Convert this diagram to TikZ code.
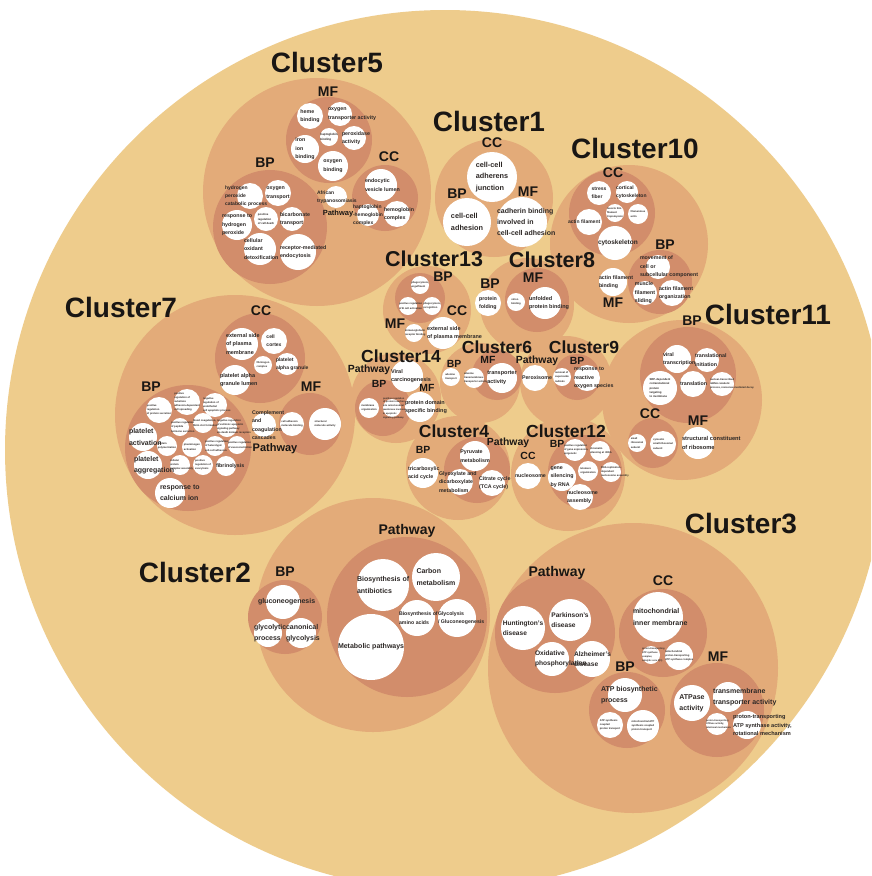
\documentclass[tikz,border=0pt]{standalone}
\usepackage{fontspec}
\setmainfont{Liberation Sans}
\pgfdeclarelayer{fg}
\pgfsetlayers{main,fg}
\definecolor{bgc}{RGB}{238,204,140}
\definecolor{clc}{RGB}{227,171,121}
\definecolor{sbc}{RGB}{210,141,107}
\definecolor{txt}{RGB}{45,40,38}
\definecolor{lab}{RGB}{25,22,20}
\newlength\wclen
\tikzset{
 bigc/.style={circle,fill=bgc,inner sep=0,draw=none},
 clus/.style={circle,fill=clc,inner sep=0,draw=none},
 subc/.style={circle,fill=sbc,inner sep=0,draw=none},
 wcirc/.style={circle,fill=white,inner sep=0,draw=none},
 wtext/.style={inner sep=0,anchor=center,align=left,text=txt},
 clab/.style={font=\bfseries\fontsize{28}{30}\selectfont,text=lab,inner sep=0},
 mlab/.style={font=\bfseries\fontsize{21.5}{24}\selectfont,text=lab,inner sep=0},
 nlab/.style={font=\bfseries\fontsize{17.5}{20}\selectfont,text=lab,inner sep=0},
 slab/.style={font=\bfseries\fontsize{14}{16}\selectfont,text=lab,inner sep=0},
 tlab/.style={font=\bfseries\fontsize{10.4}{12}\selectfont,text=lab,inner sep=0},
}
% #1 x offset, #2 name, #3 x, #4 y, #5 radius, #6 font size, #7 text
\newcommand\wc[7][0]{%
  \node[wcirc,minimum size=2*#5] (#2) at (#3,#4) {};%
  \pgfmathsetmacro\wcbs{1.6*#6}%
  \pgfinterruptpicture
    \settowidth\wclen{\fontsize{#6}{\wcbs}\selectfont\bfseries\begin{tabular}{@{}l@{}}#7\end{tabular}}%
    \global\wclen=\wclen
  \endpgfinterruptpicture
  \pgfmathsetmacro\wcxs{max(0,\wclen/2-#5)+#1}%
  \begin{pgfonlayer}{fg}%
    \node[wtext,font=\fontsize{#6}{\wcbs}\selectfont\bfseries] (#2t) at ([xshift=\wcxs pt]#2.center) {#7};%
  \end{pgfonlayer}%
}
\begin{document}
\begin{tikzpicture}[x=1pt,y=-1pt]
\useasboundingbox (0,0) rectangle (871,876);
\clip (0,0) rectangle (871,876);
\fill[white] (0,0) rectangle (871,876);
\node[bigc,minimum size=880] (all) at (445,450) {};
% cluster circles
\node[clus,minimum size=228] (k5) at (317,192) {};
\node[clus,minimum size=118] (k1) at (494,198) {};
\node[clus,minimum size=158] (k10) at (629,244) {};
\node[clus,minimum size=88] (k13) at (427,310) {};
\node[clus,minimum size=94] (k8) at (527,305) {};
\node[clus,minimum size=90] (k14) at (396,398) {};
\node[clus,minimum size=80] (k6) at (480,383) {};
\node[clus,minimum size=92] (k9) at (566,382) {};
\node[clus,minimum size=160] (k11) at (682,400) {};
\node[clus,minimum size=104] (k4) at (458,468) {};
\node[clus,minimum size=114] (k12) at (568,474) {};
\node[clus,minimum size=240] (k7) at (235,415) {};
\node[clus,minimum size=234] (k2) at (373,615) {};
\node[clus,minimum size=290] (k3) at (633,668) {};
% sub circles
\node[subc,minimum size=86] (k5mf) at (329,140) {};
\node[subc,minimum size=66] (k5cc) at (385,198) {};
\node[subc,minimum size=114] (k5bp) at (270,227) {};
\node[subc,minimum size=86] (k10cc) at (612,213) {};
\node[subc,minimum size=64] (k10bp) at (660,282) {};
\node[subc,minimum size=50] (k13bp) at (420,298) {};
\node[subc,minimum size=64] (k8mf) at (537,300) {};
\node[subc,minimum size=56] (k14bp) at (383,408) {};
\node[subc,minimum size=50] (k6mf) at (497,375) {};
\node[subc,minimum size=46] (k9bp) at (577,377) {};
\node[subc,minimum size=96] (k11bp) at (688,375) {};
\node[subc,minimum size=50] (k11cc) at (653,443) {};
\node[subc,minimum size=66] (k4pw) at (477,470) {};
\node[subc,minimum size=74] (k12bp) at (585,472) {};
\node[subc,minimum size=90] (k7cc) at (260,358) {};
\node[subc,minimum size=62] (k7mf) at (310,424) {};
\node[subc,minimum size=126] (k7bp) at (188,448) {};
\node[subc,minimum size=74] (k2bp) at (285,617) {};
\node[subc,minimum size=160] (k2pw) at (407,617) {};
\node[subc,minimum size=120] (k3pw) at (555,633) {};
\node[subc,minimum size=88] (k3cc) at (663,633) {};
\node[subc,minimum size=76] (k3bp) at (627,710) {};
\node[subc,minimum size=94] (k3mf) at (717,710) {};
% Cluster5
\wc{a1}{310}{116}{13}{5.3}{heme\\binding}
\wc{a2}{340}{114}{12}{5.3}{oxygen\\transporter activity}
\wc{a3}{329}{137}{9}{3}{haptoglobin\\binding}
\wc{a4}{354}{138}{12}{5.3}{peroxidase\\activity}
\wc{a5}{305}{149}{14}{5.3}{iron\\ion\\binding}
\wc{a6}{333}{166}{15}{5.3}{oxygen\\binding}
\wc{a7}{381}{185}{16}{5.3}{endocytic\\vesicle lumen}
\wc[-4]{a8}{368}{215}{11}{5}{haptoglobin\\-hemoglobin\\complex}
\wc{a9}{397}{214}{13}{5.3}{hemoglobin\\complex}
\wc[-8]{a10}{336}{197}{11}{5}{African\\trypanosomiasis}
\wc[-12]{a11}{250}{196}{13}{5}{hydrogen\\peroxide\\catabolic process}
\wc{a12}{278}{193}{13}{5.3}{oxygen\\transport}
\wc{a13}{266}{219}{12}{2.8}{positive\\regulation\\of cell death}
\wc{a14}{292}{219}{12}{5.3}{bicarbonate\\transport}
\wc{a15}{237}{225}{15}{5.3}{response to\\hydrogen\\peroxide}
\wc{a16}{260}{249}{16}{5.3}{cellular\\oxidant\\detoxification}
\wc{a17}{298}{252}{18}{5.3}{receptor-mediated\\endocytosis}
% Cluster1
\wc{b1}{492}{177}{25}{7.3}{cell-cell\\adherens\\junction}
\wc{b2}{467}{222}{24}{7.3}{cell-cell\\adhesion}
\wc{b3}{522}{222}{25}{7}{cadherin binding\\involved in\\cell-cell adhesion}
% Cluster10
\wc{c1}{599}{193}{12}{5}{stress\\fiber}
\wc{c2}{627}{192}{11}{5}{cortical\\cytoskeleton}
\wc{c3}{615}{213}{9}{2.6}{muscle thin\\filament\\tropomyosin}
\wc{c4}{638}{214}{10}{2.6}{filamentous\\actin}
\wc[-8]{c5}{589}{222}{13}{5}{actin filament}
\wc{c6}{615}{243}{17}{6.5}{cytoskeleton}
\wc[-6]{c7}{658}{267}{12}{5.3}{movement of\\cell or\\subcellular component}
\wc{c8}{645}{293}{12}{5.3}{muscle\\filament\\sliding}
\wc{c9}{672}{293}{13}{5.3}{actin filament\\organization}
\wc{c10}{613}{282}{14}{5.3}{actin filament\\binding}
% Cluster13
\wc{d1}{420}{285}{9}{2.6}{phagocytosis,\\engulfment}
\wc{d2}{408}{306}{9}{2.6}{positive regulation\\of B cell activation}
\wc{d3}{432}{306}{9}{2.6}{phagocytosis,\\recognition}
\wc{d4}{443}{333}{16}{5.5}{external side\\of plasma membrane}
\wc{d5}{414}{333}{9}{2.6}{immunoglobulin\\receptor binding}
% Cluster8
\wc{e1}{488}{303}{13}{5.3}{protein\\folding}
\wc{e2}{516}{302}{9}{2.6}{virion\\binding}
\wc{e3}{545}{303}{16}{5.5}{unfolded\\protein binding}
% Cluster14
\wc{f1}{407}{376}{16}{5.5}{Viral\\carcinogenesis}
\wc{f2}{369}{408}{10}{2.6}{membrane\\organization}
\wc{f3}{392}{408}{9}{2.4}{positive regulation\\of protein insertion\\into mitochondrial\\membrane involved\\in apoptotic\\signaling pathway}
\wc{f4}{420}{407}{15}{5.5}{protein domain\\specific binding}
% Cluster6
\wc{g1}{451}{377}{9}{2.6}{adenine\\transport}
\wc{g2}{474}{378}{10}{2.6}{adenine\\transmembrane\\transporter activity}
\wc{g3}{502}{378}{15}{5.5}{transporter\\activity}
% Cluster9
\wc{h1}{535}{378}{13}{5.3}{Peroxisome}
\wc{h2}{562}{377}{9}{2.6}{removal of\\superoxide\\radicals}
\wc{h3}{587}{378}{13}{5.3}{response to\\reactive\\oxygen species}
% Cluster11
\wc{i1}{677}{359}{14}{5.3}{viral\\transcription}
\wc{i2}{707}{360}{12}{5.3}{translational\\initiation}
\wc{i3}{660}{388}{17}{2.8}{SRP-dependent\\cotranslational\\protein\\targeting\\to membrane}
\wc{i4}{693}{384}{13}{5.3}{translation}
\wc{i5}{722}{384}{12}{2.6}{nuclear-transcribed\\mRNA catabolic\\process, nonsense-mediated decay}
\wc{i6}{637}{443}{9}{2.6}{small\\ribosomal\\subunit}
\wc{i7}{663}{444}{13}{2.6}{cytosolic\\small ribosomal\\subunit}
\wc{i8}{698}{443}{16}{5.7}{structural constituent\\of ribosome}
% Cluster4
\wc{j1}{423}{473}{15}{5.3}{tricarboxylic\\acid cycle}
\wc{j2}{475}{456}{15}{5.3}{Pyruvate\\metabolism}
\wc[-8]{j3}{460}{482}{13}{5.3}{Glyoxylate and\\dicarboxylate\\metabolism}
\wc{j4}{492}{483}{13}{5.3}{Citrate cycle\\(TCA cycle)}
% Cluster12
\wc{l1}{528}{476}{13}{5.3}{nucleosome}
\wc{l2}{575}{450}{11}{2.6}{positive regulation\\of gene expression,\\epigenetic}
\wc{l3}{600}{451}{10}{2.6}{chromatin\\silencing at rDNA}
\wc{l4}{562}{477}{14}{5.3}{gene\\silencing\\by RNA}
\wc{l5}{588}{471}{10}{2.6}{telomere\\organization}
\wc{l6}{611}{472}{10}{2.6}{DNA replication-\\dependent\\nucleosome assembly}
\wc{l7}{580}{497}{13}{5.3}{nucleosome\\assembly}
% Cluster7
\wc{m1}{242}{344}{16}{5.5}{external side\\of plasma\\membrane}
\wc{m2}{274}{341}{13}{5}{cell\\cortex}
\wc{m3}{263}{365}{9}{2.6}{fibrinogen\\complex}
\wc{m4}{287}{364}{11}{5}{platelet\\alpha granule}
\wc{m5}{235}{380}{15}{5.5}{platelet alpha\\granule lumen}
\wc{m6}{292}{424}{12}{2.6}{cell adhesion\\molecule binding}
\wc{m7}{325}{424}{16}{2.6}{structural\\molecule activity}
\wc{m8}{264}{425}{12}{5.3}{Complement\\and\\coagulation\\cascades}
\wc{m9}{159}{410}{13}{2.6}{positive\\regulation\\of protein secretion}
\wc{m10}{187}{402}{13}{2.6}{positive\\regulation of\\substrate\\adhesion-dependent\\cell spreading}
\wc{m11}{215}{405}{12}{2.6}{negative\\regulation of\\endothelial\\cell apoptotic process}
\wc{m12}{143}{437}{14}{7}{platelet\\activation}
\wc{m13}{180}{427}{9}{2.6}{positive regulation\\of peptide\\hormone secretion}
\wc{m14}{203}{423}{10}{2.6}{blood coagulation,\\fibrin clot formation}
\wc{m15}{227}{427}{10}{2.6}{negative regulation\\of extrinsic apoptotic\\signaling pathway\\via death domain receptors}
\wc{m16}{167}{446}{10}{2.6}{protein\\polymerization}
\wc{m17}{192}{447}{10}{2.6}{plasminogen\\activation}
\wc{m18}{215}{446}{10}{2.6}{positive regulation\\of heterotypic\\cell-cell adhesion}
\wc{m19}{237}{445}{9}{2.6}{positive regulation\\of vasoconstriction}
\wc{m20}{148}{465}{14}{7}{platelet\\aggregation}
\wc{m21}{180}{465}{10}{2.6}{cellular\\protein\\complex assembly}
\wc{m22}{203}{465}{10}{2.6}{positive\\regulation of\\exocytosis}
\wc{m23}{226}{466}{10}{5.3}{fibrinolysis}
\wc[5]{m24}{170}{493}{15}{7}{response to\\calcium ion}
% Cluster2
\wc[-8]{n1}{283}{602}{17}{7}{gluconeogenesis}
\wc{n2}{268}{633}{14}{7}{glycolytic\\process}
\wc{n3}{301}{633}{15}{7}{canonical\\glycolysis}
\wc{n4}{383}{585}{26}{7}{Biosynthesis of\\antibiotics}
\wc{n5}{436}{577}{24}{7}{Carbon\\metabolism}
\wc{n6}{417}{618}{18}{5.2}{Biosynthesis of\\amino acids}
\wc{n7}{457}{618}{19}{5.2}{Glycolysis\\/ Gluconeogenesis}
\wc{n8}{371}{647}{33}{7}{Metabolic pathways}
% Cluster3
\wc{o1}{523}{628}{22}{6.6}{Huntington's\\disease}
\wc{o2}{570}{620}{21}{6.6}{Parkinson's\\disease}
\wc{o3}{552}{659}{17}{6.6}{Oxidative\\phosphorylation}
\wc{o4}{592}{659}{18}{6.6}{Alzheimer's\\disease}
\wc{o5}{658}{617}{25}{7}{mitochondrial\\inner membrane}
\wc{o6}{651}{655}{9}{2.4}{proton-transporting\\ATP synthase\\complex,\\catalytic core F(1)}
\wc{o7}{679}{656}{14}{2.6}{mitochondrial\\proton-transporting\\ATP synthase complex}
\wc[-7]{o8}{625}{695}{17}{7}{ATP biosynthetic\\process}
\wc{o9}{610}{725}{13}{2.6}{ATP synthesis\\coupled\\proton transport}
\wc{o10}{643}{726}{16}{2.6}{mitochondrial ATP\\synthesis coupled\\proton transport}
\wc{o11}{692}{703}{18}{7}{ATPase\\activity}
\wc{o12}{728}{697}{15}{7}{transmembrane\\transporter activity}
\wc{o13}{717}{724}{11}{2.4}{proton-transporting\\ATPase activity,\\rotational mechanism}
\wc{o14}{747}{725}{14}{5.6}{proton-transporting\\ATP synthase activity,\\rotational mechanism}
% labels
\begin{pgfonlayer}{fg}
\node[clab] (L5) at (327,62) {Cluster5};
\node[slab] (L5mf) at (328,92) {MF};
\node[slab] (L5cc) at (389,157) {CC};
\node[slab] (L5bp) at (265,163) {BP};
\node[font=\bfseries\fontsize{7.5}{9}\selectfont,text=lab,inner sep=0] (L5pw) at (338,214) {Pathway};
\node[clab] (L1) at (489,121) {Cluster1};
\node[slab] (L1cc) at (492,143) {CC};
\node[slab] (L1bp) at (457,194) {BP};
\node[slab] (L1mf) at (528,192) {MF};
\node[clab] (L10) at (635,148) {Cluster10};
\node[slab] (L10cc) at (613,173) {CC};
\node[slab] (L10bp) at (665,245) {BP};
\node[slab] (L10mf) at (613,303) {MF};
\node[mlab] (L13) at (434,259) {Cluster13};
\node[slab] (L13bp) at (443,277) {BP};
\node[slab] (L13cc) at (457,311) {CC};
\node[slab] (L13mf) at (395,324) {MF};
\node[mlab] (L8) at (552,260) {Cluster8};
\node[slab] (L8bp) at (490,284) {BP};
\node[slab] (L8mf) at (533,278) {MF};
\node[nlab] (L14) at (401,356) {Cluster14};
\node[tlab] (L14pw) at (369,370) {Pathway};
\node[tlab] (L14bp) at (379,384) {BP};
\node[tlab] (L14mf) at (427,388) {MF};
\node[nlab] (L6) at (497,347) {Cluster6};
\node[tlab] (L6bp) at (454,364) {BP};
\node[tlab] (L6mf) at (488,360) {MF};
\node[nlab] (L9) at (584,347) {Cluster9};
\node[tlab] (L9pw) at (537,361) {Pathway};
\node[tlab] (L9bp) at (577,361) {BP};
\node[clab] (L11) at (768,314) {Cluster11};
\node[slab] (L11bp) at (692,321) {BP};
\node[slab] (L11cc) at (650,414) {CC};
\node[slab] (L11mf) at (698,421) {MF};
\node[nlab] (L4) at (454,431) {Cluster4};
\node[tlab] (L4bp) at (423,450) {BP};
\node[tlab] (L4pw) at (508,443) {Pathway};
\node[nlab] (L12) at (566,431) {Cluster12};
\node[tlab] (L12bp) at (557,444) {BP};
\node[tlab] (L12cc) at (528,456) {CC};
\node[clab] (L7) at (121,307) {Cluster7};
\node[slab] (L7cc) at (261,311) {CC};
\node[slab] (L7mf) at (311,387) {MF};
\node[slab] (L7bp) at (151,387) {BP};
\node[font=\bfseries\fontsize{11}{13}\selectfont,text=lab,inner sep=0] (L7pw) at (275,449) {Pathway};
\node[clab] (L2) at (195,572) {Cluster2};
\node[slab] (L2bp) at (285,572) {BP};
\node[slab] (L2pw) at (407,531) {Pathway};
\node[clab] (L3) at (741,524) {Cluster3};
\node[slab] (L3pw) at (557,573) {Pathway};
\node[slab] (L3cc) at (663,581) {CC};
\node[slab] (L3bp) at (625,667) {BP};
\node[slab] (L3mf) at (718,657) {MF};
\end{pgfonlayer}
\end{tikzpicture}
\end{document}
